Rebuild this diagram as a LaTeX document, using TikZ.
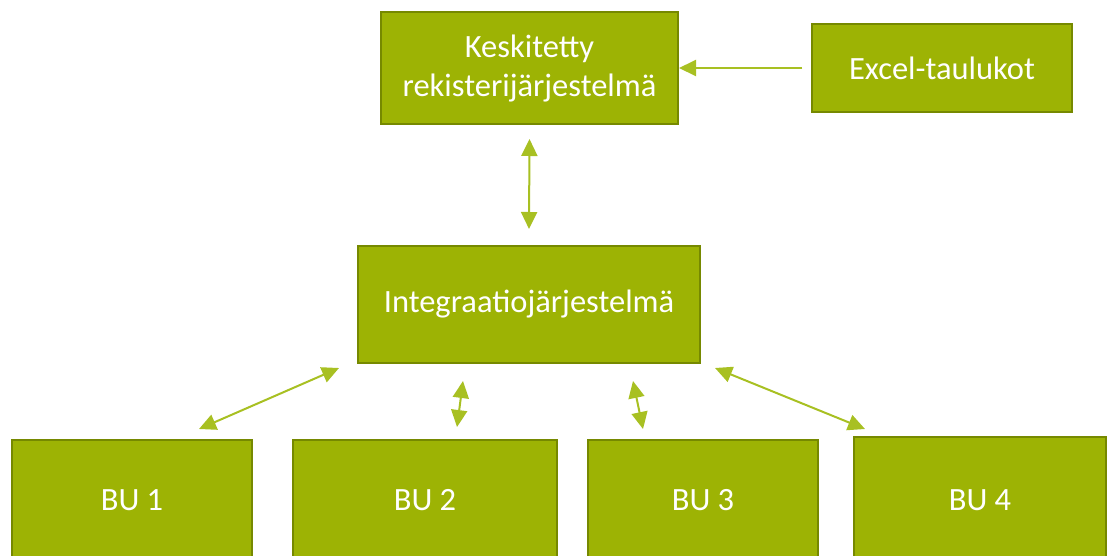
\documentclass[tikz,border=0pt]{standalone}
\usepackage{fontspec}
\setmainfont{Carlito}
\usepackage{xcolor}
\usepackage{tikz}
\usetikzlibrary{arrows.meta, calc}
\definecolor{boxcolor}{RGB}{157,179,4}
\definecolor{edgecolor}{RGB}{118,137,0}
\definecolor{linkcolor}{RGB}{168,192,34}

\begin{document}
\begin{tikzpicture}[
    x=1pt, y=-1pt,
    unit/.style={draw=edgecolor, line width=2pt, fill=boxcolor, text=white, align=center,
        minimum width=#1, inner sep=0pt, font=\fontsize{32.5}{39}\selectfont},
    arrow/.style={-{Triangle[length=17pt, width=16pt]}, draw=linkcolor, fill=linkcolor, line width=2pt},
    dblarrow/.style={{Triangle[length=17pt, width=16pt]}-{Triangle[length=17pt, width=16pt]}, draw=linkcolor, fill=linkcolor, line width=2pt}
]
    \useasboundingbox (0,0) rectangle (1108,555);
    \clip (0,0) rectangle (1108,555);

    \node[unit=297pt, minimum height=112pt] (reg) at (529.5,68) {Keskitetty\\rekisterijärjestelmä};
    \node[unit=260pt, minimum height=88pt] (excel) at (942,68) {Excel-taulukot};
    \node[unit=342pt, minimum height=117pt] (integ) at (529,304.5) {Integraatiojärjestelmä};

    % Business units
    \node[unit=240pt, minimum height=120pt] (bu1) at (132,500) {BU 1};
    \node[unit=264pt, minimum height=120pt] (bu2) at (425,500) {BU 2};
    \node[unit=230pt, minimum height=120pt] (bu3) at (703,500) {BU 3};
    \node[unit=252pt, minimum height=126pt] (bu4) at (980,500) {BU 4};

    % Connections
    \draw[arrow, shorten <=9pt] (excel.west) -- (reg.east);
    \draw[dblarrow] ($(reg.south)+(0,14)$) -- ($(integ.north)+(0,-16)$);
    \draw[dblarrow] ($(integ.south west)+(-18,4)$) -- ($(bu1.north east)+(-54,-10)$);
    \draw[dblarrow] ($(integ.south)+(-66,17)$) -- ($(bu2.north)+(32,-12)$);
    \draw[dblarrow] ($(integ.south)+(104,17)$) -- ($(bu3.north)+(-60,-10)$);
    \draw[dblarrow] ($(integ.south east)+(14,4)$) -- ($(bu4.north west)+(12,-7)$);
\end{tikzpicture}
\end{document}
